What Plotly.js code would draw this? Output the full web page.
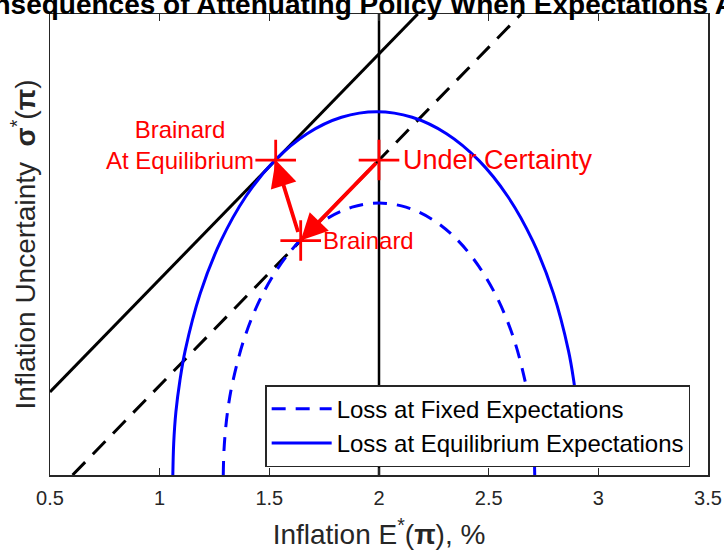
<!DOCTYPE html>
<html>
<head>
<meta charset="utf-8">
<script src="https://cdn.plot.ly/plotly-3.0.1.min.js"></script>
<style>html,body{margin:0;padding:0;background:#fff;}#chart{width:724px;height:550px;}</style>
</head>
<body>
<div id="chart"></div>
<script>
// ---- data ----
const xTickVals = [0.5, 1, 1.5, 2, 2.5, 3, 3.5];
const xTickText = ['0.5', '1', '1.5', '2', '2.5', '3', '3.5'];

// Loss contour at equilibrium expectations (solid blue)
const eqLossX = [1.060, 1.064, 1.074, 1.092, 1.116, 1.185, 1.278, 1.392, 1.525, 1.672, 1.829, 1.990,
                 2.151, 2.308, 2.455, 2.588, 2.702, 2.795, 2.864, 2.888, 2.906, 2.915];
const eqLossY = [0.000, 0.343, 0.684, 1.020, 1.347, 1.970, 2.533, 3.018, 3.412, 3.702, 3.880, 3.940,
                 3.880, 3.702, 3.412, 3.018, 2.533, 1.970, 1.347, 1.020, 0.684, 0.412];

// Loss contour at fixed expectations (dashed blue)
const fixedLossX = [1.290, 1.293, 1.301, 1.314, 1.333, 1.385, 1.456, 1.544, 1.645, 1.757, 1.877, 2.000,
                    2.123, 2.243, 2.355, 2.456, 2.544, 2.615, 2.667, 2.686, 2.699, 2.707, 2.710];
const fixedLossY = [0.000, 0.257, 0.512, 0.763, 1.009, 1.475, 1.896, 2.260, 2.555, 2.772, 2.905, 2.950,
                    2.905, 2.772, 2.555, 2.260, 1.896, 1.475, 1.009, 0.763, 0.512, 0.257, 0.000];

// Straight black lines
const eqLineX = [0.5, 2.177];
const eqLineY = [0.90, 5.0];
const fixedLineX = [0.603, 2.648];
const fixedLineY = [0.0, 5.0];
const targetX = [2.0, 2.0];
const targetY = [0.0, 5.0];

// Policy points
const pointNames = ['Brainard At Equilibrium', 'Under Certainty', 'Brainard'];
const pointX = [1.529, 2.0, 1.643];
const pointY = [3.416, 3.416, 2.543];

const legendNames = ['Loss at Fixed Expectations', 'Loss at Equilibrium Expectations'];

// ---- chart ----
const FONT = 'Liberation Sans, Arial, Helvetica, sans-serif';
const AXC = '#262626';

const traces = [
  {x: eqLineX, y: eqLineY, mode: 'lines', line: {color: '#000', width: 3}, showlegend: false, hoverinfo: 'skip'},
  {x: fixedLineX, y: fixedLineY, mode: 'lines', line: {color: '#000', width: 3, dash: '18px,11px'}, showlegend: false, hoverinfo: 'skip'},
  {x: targetX, y: targetY, mode: 'lines', line: {color: '#000', width: 2.5}, showlegend: false, hoverinfo: 'skip'},
  {x: fixedLossX, y: fixedLossY, mode: 'lines', name: legendNames[0],
   line: {color: '#0000ff', width: 3, dash: '14px,10px', shape: 'spline', smoothing: 1}},
  {x: eqLossX, y: eqLossY, mode: 'lines', name: legendNames[1],
   line: {color: '#0000ff', width: 3, shape: 'spline', smoothing: 1}},
  {x: pointX, y: pointY, mode: 'markers', text: pointNames, showlegend: false,
   marker: {symbol: 'cross-thin', size: 29, color: '#ff0000', line: {color: '#ff0000', width: 2.8}}}
];

const redFont = {family: FONT, size: 24, color: '#ff0000'};
const redFontBig = {family: FONT, size: 27, color: '#ff0000'};

const annotations = [
  // arrow: under certainty -> Brainard
  {x: pointX[2], y: pointY[2], ax: pointX[1], ay: pointY[1], xref: 'x', yref: 'y', axref: 'x', ayref: 'y',
   showarrow: true, arrowhead: 2, arrowsize: 1.4, arrowwidth: 3.8, arrowcolor: '#ff0000', standoff: 0, text: ' '},
  // arrow: Brainard -> Brainard at equilibrium
  {x: pointX[0], y: pointY[0], ax: pointX[2], ay: pointY[2], xref: 'x', yref: 'y', axref: 'x', ayref: 'y',
   showarrow: true, arrowhead: 2, arrowsize: 1.4, arrowwidth: 3.8, arrowcolor: '#ff0000', standoff: 0, text: ' '},
  {x: pointX[0], y: pointY[0], xref: 'x', yref: 'y', text: 'Brainard<br>At Equilibrium', showarrow: false,
   xanchor: 'right', yanchor: 'middle', align: 'center', xshift: -20, yshift: 15, font: redFont},
  {x: pointX[1], y: pointY[1], xref: 'x', yref: 'y', text: 'Under Certainty', showarrow: false,
   xanchor: 'left', yanchor: 'middle', xshift: 22, font: redFontBig},
  {x: pointX[2], y: pointY[2], xref: 'x', yref: 'y', text: 'Brainard', showarrow: false,
   xanchor: 'left', yanchor: 'middle', xshift: 20, font: redFont}
];

const layout = {
  width: 724, height: 550,
  margin: {l: 50, r: 16, t: 14, b: 75},
  paper_bgcolor: '#fff', plot_bgcolor: '#fff',
  font: {family: FONT, color: AXC},
  title: {text: '<b>Consequences of Attenuating Policy When Expectations Adjust</b>',
          font: {family: FONT, size: 28, color: '#000'},
          xref: 'container', yref: 'paper', x: 0.5235, xanchor: 'center', y: 1, yanchor: 'bottom',
          pad: {t: 0, b: 0, l: 0, r: 0}},
  xaxis: {range: [0.5, 3.5], tickvals: xTickVals, ticktext: xTickText,
          ticks: 'inside', ticklen: 7, tickwidth: 1.5, tickcolor: AXC,
          showline: true, linecolor: AXC, linewidth: 1.5, mirror: 'ticks',
          showgrid: false, zeroline: false, tickfont: {family: FONT, size: 20, color: AXC},
          ticklabelstandoff: 4,
          title: {text: 'Inflation E<sup>*</sup>(<b>π</b>), %', font: {family: FONT, size: 28, color: AXC}, standoff: 22}},
  yaxis: {range: [0, 5], showticklabels: false, ticks: '',
          showline: true, linecolor: AXC, linewidth: 1.5, mirror: true,
          showgrid: false, zeroline: false,
          title: {text: 'Inflation Uncertainty  <b>σ</b><sup>*</sup>(<b>π</b>)', font: {family: FONT, size: 28, color: AXC}, standoff: 4}},
  showlegend: true,
  legend: {x: 0.327, y: 0.195, xanchor: 'left', yanchor: 'top', bgcolor: '#fff',
           bordercolor: AXC, borderwidth: 1.5, font: {family: FONT, size: 24, color: '#000'},
           itemwidth: 60, tracegroupgap: 0, traceorder: 'normal'},
  annotations: annotations
};

Plotly.newPlot('chart', traces, layout, {staticPlot: true, displayModeBar: false});
</script>
</body>
</html>
